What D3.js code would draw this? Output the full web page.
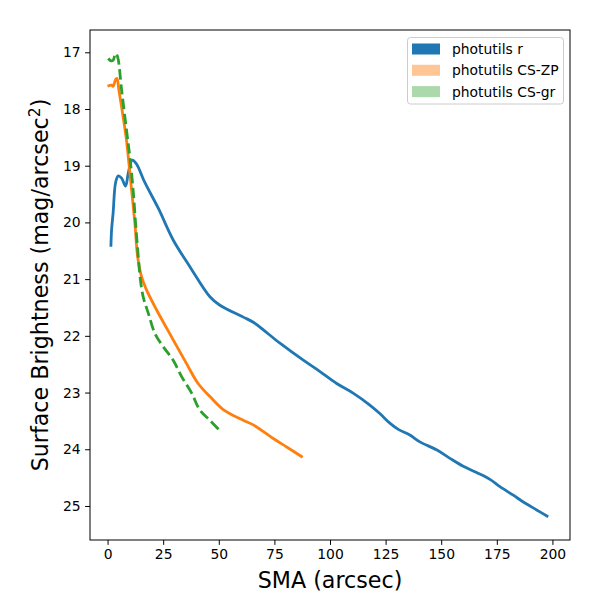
<!DOCTYPE html>
<meta charset="utf-8">
<script src="https://d3js.org/d3.v7.min.js"></script>
<style>
body { margin: 0; background: #fff; }
text { font-family: "DejaVu Sans", sans-serif; fill: #000; }
</style>
<body>
<script>

// values
var rSma = [1.5, 1.8, 2.5, 3.6, 4.8, 6.3, 8.1, 9.3, 11.1, 13, 16.8, 22.8, 29.5, 37, 46, 50.5, 61, 65.5,
  77.5, 88, 95.5, 103, 110.4, 117.9, 122.4, 126.9, 130.7, 135.9, 140.4, 147.9, 153.9, 159.9, 165.9, 171.9,
  176.4, 182.4, 186.9, 192.9, 198.1];
var rMu = [20.43, 20.13, 19.83, 19.3, 19.18, 19.22, 19.36, 19.13, 18.9, 18.97, 19.3, 19.75, 20.31, 20.78,
  21.31, 21.46, 21.67, 21.76, 22.13, 22.43, 22.63, 22.84, 23.01, 23.22, 23.37, 23.54, 23.65, 23.75, 23.87,
  24.01, 24.16, 24.3, 24.41, 24.53, 24.66, 24.81, 24.93, 25.07, 25.19];

var zpSma = [0, 1.8, 2.5, 3.6, 4.2, 5.1, 7, 8.5, 9.3, 10.8, 12.3, 13.5, 15.3, 17.5, 22, 29.5, 35.5, 40.7, 46,
  52, 61, 65.5, 74.5, 80.5, 87.7];
var zpMu = [17.6, 17.58, 17.6, 17.48, 17.46, 17.67, 18.14, 18.55, 18.84, 19.43, 20.02, 20.6, 20.96, 21.19, 21.54,
  22.07, 22.49, 22.84, 23.07, 23.3, 23.49, 23.57, 23.81, 23.96, 24.14];

var grSma = [0.3, 1.5, 2.5, 3.6, 4.5, 6.3, 8.5, 10, 11.5, 12.6, 13.8, 14.6, 16, 18.3, 21.3, 25, 29.5, 33.3,
  37.8, 41.5, 46, 50.2];
var grMu = [17.11, 17.15, 17.14, 17.02, 17.08, 17.66, 18.37, 18.84, 19.43, 20.02, 20.6, 20.96, 21.31, 21.6,
  21.96, 22.19, 22.43, 22.72, 23.01, 23.31, 23.49, 23.66];

var xTicks = [0, 25, 50, 75, 100, 125, 150, 175, 200];
var yTicks = [17, 18, 19, 20, 21, 22, 23, 24, 25];
var labels = ["photutils r", "photutils CS-ZP", "photutils CS-gr"];

var margin = {top: 30, right: 30, bottom: 60, left: 90};
var width = 600 - margin.left - margin.right;
var height = 600 - margin.top - margin.bottom;

var svg = d3.select("body").append("svg")
  .attr("width", 600)
  .attr("height", 600);

var g = svg.append("g")
  .attr("transform", "translate(" + margin.left + "," + margin.top + ")");

var xScale = d3.scaleLinear().domain([-7.9, 207.9]).range([0, width]);
var yScale = d3.scaleLinear().domain([16.607, 25.6]).range([0, height]);

function pairs(xs, ys) {
  return xs.map(function(x, i) { return [x, ys[i]]; });
}

var line = d3.line()
  .x(function(d) { return xScale(d[0]); })
  .y(function(d) { return yScale(d[1]); })
  .curve(d3.curveCatmullRom.alpha(0.5));

var series = [
  {name: labels[0], data: pairs(rSma, rMu), color: "#1f77b4", dash: null, alpha: 1},
  {name: labels[1], data: pairs(zpSma, zpMu), color: "#ff7f0e", dash: null, alpha: 0.45},
  {name: labels[2], data: pairs(grSma, grMu), color: "#2ca02c", dash: "10.4,4.5", alpha: 0.4}
];

g.selectAll(".curve")
  .data(series)
  .enter().append("path")
  .attr("class", "curve")
  .attr("d", function(d) { return line(d.data); })
  .attr("fill", "none")
  .attr("stroke", function(d) { return d.color; })
  .attr("stroke-width", 2.8)
  .attr("stroke-dasharray", function(d) { return d.dash; });

// axes
var xAxis = d3.axisBottom(xScale).tickValues(xTicks).tickSize(4.9).tickPadding(4.5);
var yAxis = d3.axisLeft(yScale).tickValues(yTicks).tickSize(4.9).tickPadding(4.5);

var xg = g.append("g").attr("transform", "translate(0," + height + ")").call(xAxis);
var yg = g.append("g").call(yAxis);

[xg, yg].forEach(function(a) {
  a.select(".domain").remove();
  a.selectAll("line").attr("stroke", "#000").attr("stroke-width", 1);
  a.selectAll("text").style("font-size", "13.9px").attr("fill", "#000");
});

g.append("rect")
  .attr("width", width)
  .attr("height", height)
  .attr("fill", "none")
  .attr("stroke", "#000")
  .attr("stroke-width", 1);

// axis labels
svg.append("text")
  .attr("x", margin.left + width / 2)
  .attr("y", 588)
  .attr("text-anchor", "middle")
  .style("font-size", "22.2px")
  .text("SMA (arcsec)");

var yl = svg.append("text")
  .attr("transform", "translate(48," + (margin.top + height / 2) + ") rotate(-90)")
  .attr("text-anchor", "middle")
  .style("font-size", "22.2px");
yl.append("tspan").text("Surface Brightness (mag/arcsec");
yl.append("tspan").attr("dy", -8).style("font-size", "15.5px").text("2");
yl.append("tspan").attr("dy", 8).text(")");

// legend
var lg = svg.append("g").attr("transform", "translate(407.5,37.5)");
lg.append("rect")
  .attr("width", 156)
  .attr("height", 66.5)
  .attr("rx", 3)
  .attr("fill", "#fff")
  .attr("fill-opacity", 0.8)
  .attr("stroke", "#ccc");

var items = lg.selectAll(".item")
  .data(series)
  .enter().append("g")
  .attr("class", "item")
  .attr("transform", function(d, i) { return "translate(4.5," + (6 + i * 21.3) + ")"; });

items.append("rect")
  .attr("width", 28)
  .attr("height", 11)
  .attr("fill", function(d) { return d.color; })
  .attr("fill-opacity", function(d) { return d.alpha; });

items.append("text")
  .attr("x", 40)
  .attr("y", 10.5)
  .style("font-size", "13.9px")
  .text(function(d) { return d.name; });

</script>
</body>
